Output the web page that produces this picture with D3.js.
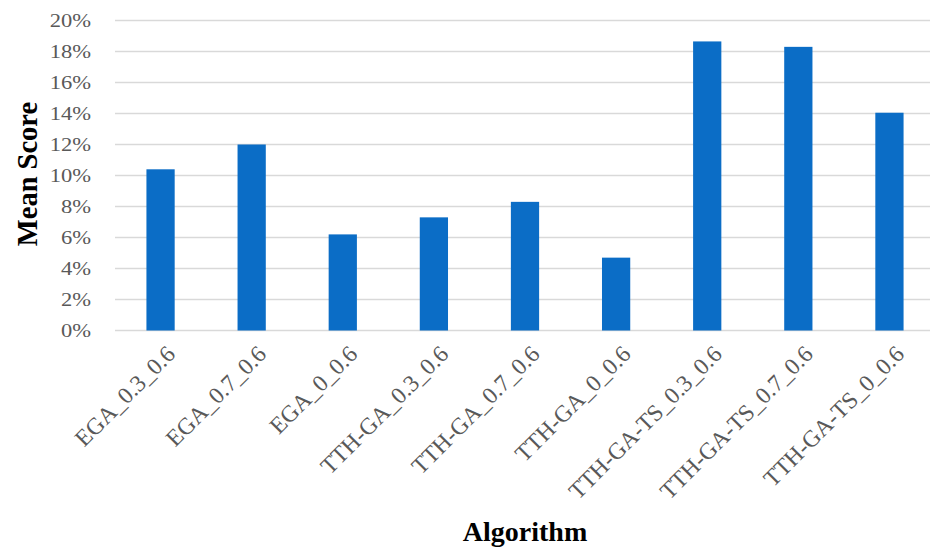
<!DOCTYPE html>
<html><head><meta charset="utf-8">
<script src="https://cdn.jsdelivr.net/npm/d3@7"></script>
<style>body{margin:0;background:#fff}svg{display:block}</style>
</head><body>
<svg id="c" width="930" height="554"></svg>
<script>
const categories = ["EGA_0.3_0.6","EGA_0.7_0.6","EGA_0_0.6","TTH-GA_0.3_0.6","TTH-GA_0.7_0.6","TTH-GA_0_0.6","TTH-GA-TS_0.3_0.6","TTH-GA-TS_0.7_0.6","TTH-GA-TS_0_0.6"];
const meanScore = [0.104, 0.120, 0.062, 0.073, 0.083, 0.047, 0.1865, 0.183, 0.1405];
const yTicks = [0,0.02,0.04,0.06,0.08,0.10,0.12,0.14,0.16,0.18,0.20];
const xTitle = "Algorithm";
const yTitle = "Mean Score";

const svg = d3.select("#c");
const font = "'Liberation Serif', 'Times New Roman', serif";
const x = d3.scaleBand().domain(categories).range([115, 935]).paddingInner(0.69).paddingOuter(0.345);
const y = d3.scaleLinear().domain([0, 0.2]).range([330.5, 20.5]);

// gridlines
svg.append("g").selectAll("line").data(yTicks).join("line")
  .attr("x1", 115).attr("x2", 935)
  .attr("y1", d => y(d)).attr("y2", d => y(d))
  .attr("stroke", "#d9d9d9").attr("stroke-width", 1.5);

// y axis labels
const yAxis = d3.axisLeft(y).tickValues(yTicks).tickFormat(d3.format(".0%")).tickSize(0).tickPadding(0);
const gy = svg.append("g").attr("transform", "translate(91,0)").call(yAxis);
gy.select(".domain").remove();
gy.selectAll(".tick text").attr("x", null)
  .attr("font-family", font).attr("font-size", 18.5).attr("fill", "#595959")
  .attr("transform", "scale(1.22,1)");

// bars
svg.append("g").selectAll("rect").data(meanScore).join("rect")
  .attr("x", (d,i) => x(categories[i]))
  .attr("width", x.bandwidth())
  .attr("y", d => y(d))
  .attr("height", d => y(0) - y(d))
  .attr("fill", "#0b6dc6");

// x axis labels
const xAxis = d3.axisBottom(x).tickSize(0).tickPadding(0);
const gx = svg.append("g").attr("transform", "translate(0,330.5)").call(xAxis);
gx.select(".domain").remove();
gx.selectAll("text")
  .attr("font-family", font).attr("font-size", 23.5).attr("fill", "#595959")
  .attr("text-anchor", "end").attr("dy", null)
  .attr("transform", "translate(16,25) rotate(-45)");

// titles
svg.append("text").attr("x", 525).attr("y", 541).attr("text-anchor", "middle")
  .attr("font-family", font).attr("font-weight", "bold").attr("font-size", 28).attr("fill", "#000")
  .text(xTitle);
svg.append("text").attr("transform", "translate(37,174) rotate(-90)").attr("text-anchor", "middle")
  .attr("font-family", font).attr("font-weight", "bold").attr("font-size", 28.5).attr("fill", "#000")
  .text(yTitle);
</script>
</body></html>
